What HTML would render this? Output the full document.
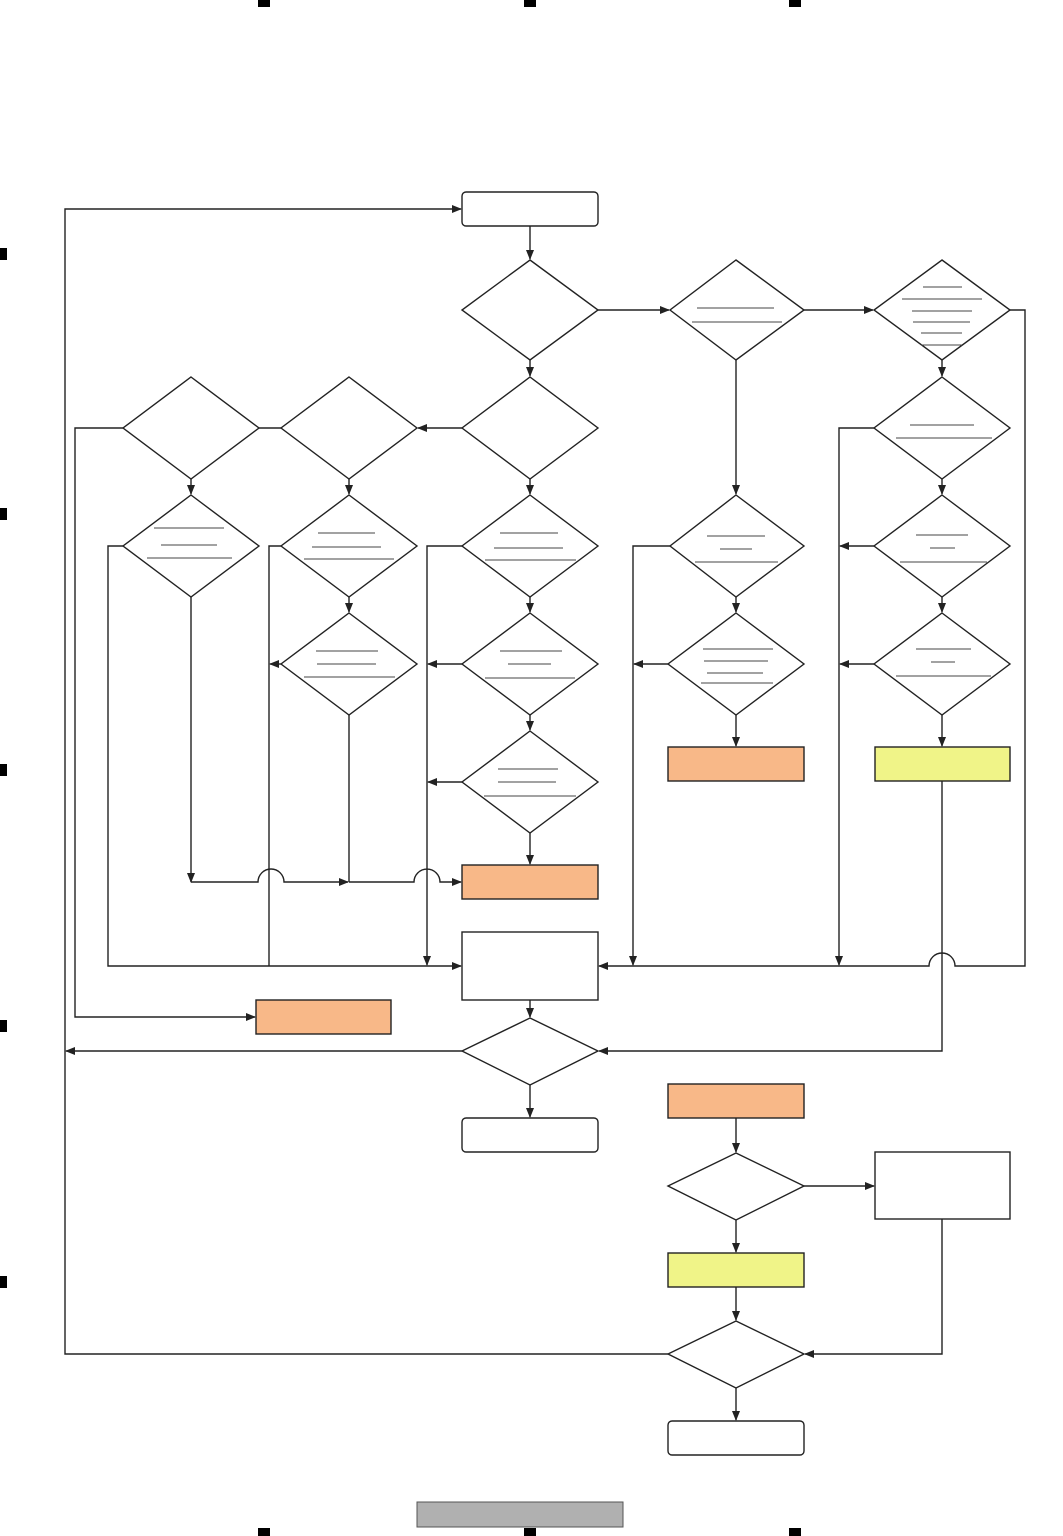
<!DOCTYPE html>
<html><head><meta charset="utf-8"><style>html,body{margin:0;padding:0;background:#fff}svg{display:block}</style></head>
<body>
<svg width="1063" height="1536" viewBox="0 0 1063 1536" xmlns="http://www.w3.org/2000/svg">
<defs>
<marker id="a" markerWidth="10" markerHeight="8" refX="9" refY="4" orient="auto" markerUnits="userSpaceOnUse"><path d="M0,0 L10,4 L0,8 z" fill="#222"/></marker>
</defs>
<!-- page marks -->
<g fill="#000">
<rect x="258" y="0" width="12" height="7"/><rect x="524" y="0" width="12" height="7"/><rect x="789" y="0" width="12" height="7"/>
<rect x="258" y="1528" width="12" height="8"/><rect x="524" y="1528" width="12" height="8"/><rect x="789" y="1528" width="12" height="8"/>
<rect x="0" y="248" width="7" height="12"/><rect x="0" y="508" width="7" height="12"/><rect x="0" y="764" width="7" height="12"/><rect x="0" y="1020" width="7" height="12"/><rect x="0" y="1276" width="7" height="12"/>
</g>
<rect x="417" y="1502" width="206" height="25" fill="#b0b0b0" stroke="#555" stroke-width="1"/>

<g fill="none" stroke="#222" stroke-width="1.4">
<!-- connectors -->
<polyline points="668,1354 65,1354 65,209 461,209" marker-end="url(#a)"/>
<line x1="530" y1="226" x2="530" y2="259" marker-end="url(#a)"/>
<line x1="598" y1="310" x2="669" y2="310" marker-end="url(#a)"/>
<line x1="804" y1="310" x2="873" y2="310" marker-end="url(#a)"/>
<path d="M1010,310 H1025 V966 H955 A13,13 0 0 0 929,966 H599" marker-end="url(#a)"/>
<line x1="530" y1="360" x2="530" y2="376" marker-end="url(#a)"/>
<line x1="530" y1="479" x2="530" y2="494" marker-end="url(#a)"/>
<line x1="530" y1="597" x2="530" y2="612" marker-end="url(#a)"/>
<line x1="530" y1="715" x2="530" y2="730" marker-end="url(#a)"/>
<line x1="530" y1="833" x2="530" y2="864" marker-end="url(#a)"/>
<line x1="462" y1="428" x2="418" y2="428" marker-end="url(#a)"/>
<line x1="281" y1="428" x2="259" y2="428"/>
<polyline points="123,428 75,428 75,1017 255,1017" marker-end="url(#a)"/>
<line x1="191" y1="479" x2="191" y2="494" marker-end="url(#a)"/>
<line x1="349" y1="479" x2="349" y2="494" marker-end="url(#a)"/>
<line x1="349" y1="597" x2="349" y2="612" marker-end="url(#a)"/>
<line x1="191" y1="597" x2="191" y2="882" marker-end="url(#a)"/>
<path d="M191,882 H258 A13,13 0 0 1 284,882 H348" marker-end="url(#a)"/>
<line x1="349" y1="715" x2="349" y2="882"/>
<path d="M349,882 H414 A13,13 0 0 1 440,882 H461" marker-end="url(#a)"/>
<polyline points="123,546 108,546 108,966 461,966" marker-end="url(#a)"/>
<polyline points="281,546 269,546 269,966"/>
<line x1="281" y1="664" x2="270" y2="664" marker-end="url(#a)"/>
<polyline points="462,546 427,546 427,965" marker-end="url(#a)"/>
<line x1="462" y1="664" x2="428" y2="664" marker-end="url(#a)"/>
<line x1="462" y1="782" x2="428" y2="782" marker-end="url(#a)"/>
<polyline points="670,546 633,546 633,965" marker-end="url(#a)"/>
<line x1="668" y1="664" x2="634" y2="664" marker-end="url(#a)"/>
<line x1="736" y1="360" x2="736" y2="494" marker-end="url(#a)"/>
<line x1="736" y1="597" x2="736" y2="612" marker-end="url(#a)"/>
<line x1="736" y1="715" x2="736" y2="746" marker-end="url(#a)"/>
<line x1="942" y1="360" x2="942" y2="376" marker-end="url(#a)"/>
<line x1="942" y1="479" x2="942" y2="494" marker-end="url(#a)"/>
<line x1="942" y1="597" x2="942" y2="612" marker-end="url(#a)"/>
<line x1="942" y1="715" x2="942" y2="746" marker-end="url(#a)"/>
<polyline points="874,428 839,428 839,965" marker-end="url(#a)"/>
<line x1="874" y1="546" x2="840" y2="546" marker-end="url(#a)"/>
<line x1="874" y1="664" x2="840" y2="664" marker-end="url(#a)"/>
<polyline points="942,781 942,1051 599,1051" marker-end="url(#a)"/>
<line x1="530" y1="1000" x2="530" y2="1017" marker-end="url(#a)"/>
<line x1="462" y1="1051" x2="66" y2="1051" marker-end="url(#a)"/>
<line x1="530" y1="1085" x2="530" y2="1117" marker-end="url(#a)"/>
<line x1="736" y1="1118" x2="736" y2="1152" marker-end="url(#a)"/>
<line x1="804" y1="1186" x2="874" y2="1186" marker-end="url(#a)"/>
<line x1="736" y1="1220" x2="736" y2="1252" marker-end="url(#a)"/>
<line x1="736" y1="1287" x2="736" y2="1320" marker-end="url(#a)"/>
<line x1="736" y1="1388" x2="736" y2="1420" marker-end="url(#a)"/>
<polyline points="942,1219 942,1354 805,1354" marker-end="url(#a)"/>
</g>

<g fill="#fff" stroke="#222" stroke-width="1.4">
<!-- diamonds -->
<polygon points="530,260 598,310 530,360 462,310"/>
<polygon points="736,260 804,310 736,360 670,310"/>
<polygon points="942,260 1010,310 942,360 874,310"/>
<polygon points="530,377 598,428 530,479 462,428"/>
<polygon points="942,377 1010,428 942,479 874,428"/>
<polygon points="349,377 417,428 349,479 281,428"/>
<polygon points="191,377 259,428 191,479 123,428"/>
<polygon points="191,495 259,546 191,597 123,546"/>
<polygon points="349,495 417,546 349,597 281,546"/>
<polygon points="530,495 598,546 530,597 462,546"/>
<polygon points="736,495 804,546 736,597 670,546"/>
<polygon points="942,495 1010,546 942,597 874,546"/>
<polygon points="349,613 417,664 349,715 281,664"/>
<polygon points="530,613 598,664 530,715 462,664"/>
<polygon points="736,613 804,664 736,715 668,664"/>
<polygon points="942,613 1010,664 942,715 874,664"/>
<polygon points="530,731 598,782 530,833 462,782"/>
<polygon points="530,1018 598,1051 530,1085 462,1051"/>
<polygon points="736,1153 804,1186 736,1220 668,1186"/>
<polygon points="736,1321 804,1354 736,1388 668,1354"/>
<!-- boxes -->
<rect x="462" y="192" width="136" height="34" rx="4"/>
<rect x="462" y="1118" width="136" height="34" rx="4"/>
<rect x="668" y="1421" width="136" height="34" rx="4"/>
<rect x="462" y="932" width="136" height="68"/>
<rect x="875" y="1152" width="135" height="67"/>
<rect x="668" y="747" width="136" height="34" fill="#F8B888"/>
<rect x="462" y="865" width="136" height="34" fill="#F8B888"/>
<rect x="256" y="1000" width="135" height="34" fill="#F8B888"/>
<rect x="668" y="1084" width="136" height="34" fill="#F8B888"/>
<rect x="875" y="747" width="135" height="34" fill="#F0F488"/>
<rect x="668" y="1253" width="136" height="34" fill="#F0F488"/>
</g>

<!-- inner text-like lines -->
<g stroke="#444" stroke-width="1">
<line x1="697" y1="308" x2="774" y2="308"/><line x1="692" y1="322" x2="782" y2="322"/>
<line x1="923" y1="287" x2="962" y2="287"/><line x1="902" y1="299" x2="982" y2="299"/><line x1="912" y1="311" x2="972" y2="311"/><line x1="913" y1="322" x2="970" y2="322"/><line x1="921" y1="333" x2="962" y2="333"/><line x1="921" y1="345" x2="962" y2="345"/>
<line x1="910" y1="425" x2="974" y2="425"/><line x1="896" y1="438" x2="992" y2="438"/>
<line x1="154" y1="528" x2="224" y2="528"/><line x1="161" y1="545" x2="217" y2="545"/><line x1="147" y1="558" x2="232" y2="558"/>
<line x1="318" y1="533" x2="375" y2="533"/><line x1="312" y1="547" x2="381" y2="547"/><line x1="304" y1="559" x2="394" y2="559"/>
<line x1="500" y1="533" x2="558" y2="533"/><line x1="494" y1="548" x2="563" y2="548"/><line x1="485" y1="560" x2="576" y2="560"/>
<line x1="707" y1="536" x2="765" y2="536"/><line x1="720" y1="549" x2="752" y2="549"/><line x1="695" y1="562" x2="778" y2="562"/>
<line x1="916" y1="535" x2="968" y2="535"/><line x1="930" y1="548" x2="955" y2="548"/><line x1="900" y1="562" x2="987" y2="562"/>
<line x1="316" y1="651" x2="378" y2="651"/><line x1="317" y1="664" x2="376" y2="664"/><line x1="304" y1="677" x2="395" y2="677"/>
<line x1="500" y1="651" x2="562" y2="651"/><line x1="508" y1="664" x2="551" y2="664"/><line x1="485" y1="678" x2="575" y2="678"/>
<line x1="703" y1="649" x2="773" y2="649"/><line x1="704" y1="661" x2="768" y2="661"/><line x1="707" y1="673" x2="763" y2="673"/><line x1="701" y1="683" x2="773" y2="683"/>
<line x1="916" y1="649" x2="971" y2="649"/><line x1="931" y1="662" x2="955" y2="662"/><line x1="896" y1="676" x2="991" y2="676"/>
<line x1="498" y1="769" x2="558" y2="769"/><line x1="498" y1="782" x2="556" y2="782"/><line x1="484" y1="796" x2="576" y2="796"/>
</g>
</svg>
</body></html>
